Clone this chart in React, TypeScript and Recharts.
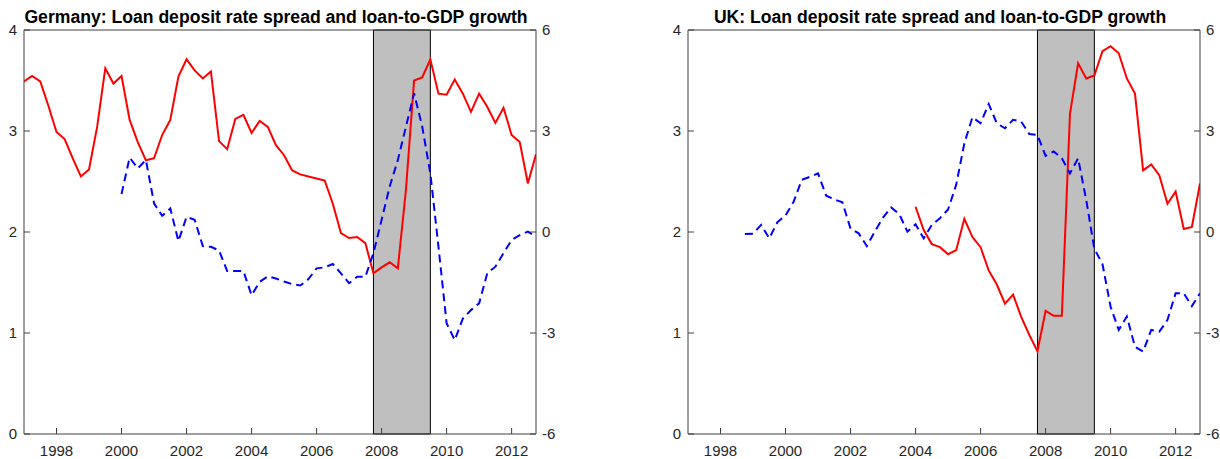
import { LineChart, Line, XAxis, YAxis, ReferenceArea } from 'recharts';

// quarterly observations, first value at the given start year
const firstQuarter = 1997;
const lastQuarter = 2012.75;
const yearTicks = [1998, 2000, 2002, 2004, 2006, 2008, 2010, 2012];
const spreadTicks = [0, 1, 2, 3, 4];
const growthTicks = [-6, -3, 0, 3, 6];
const crisisStart = 2007.75;
const crisisEnd = 2009.5;

const deSpreadStart = 1997;
const deSpread = [
  3.49, 3.545, 3.49, 3.25, 2.99, 2.92, 2.73, 2.55,
  2.62, 3.04, 3.62, 3.47, 3.545, 3.11, 2.89, 2.71,
  2.73, 2.96, 3.11, 3.54, 3.71, 3.6, 3.52, 3.59,
  2.9, 2.82, 3.12, 3.16, 2.98, 3.1, 3.04, 2.86,
  2.76, 2.61, 2.57, 2.55, 2.53, 2.51, 2.28, 1.99,
  1.94, 1.95, 1.89, 1.59, 1.65, 1.7, 1.64, 2.42,
  3.5, 3.53, 3.71, 3.37, 3.36, 3.51, 3.37, 3.19,
  3.37, 3.24, 3.08, 3.23, 2.96, 2.89, 2.48, 2.77,
];
const deGrowthStart = 2000;
const deGrowth = [
  1.13, 2.21, 1.89, 2.14, 0.85, 0.48, 0.7, -0.27,
  0.45, 0.36, -0.42, -0.44, -0.55, -1.16, -1.16, -1.16,
  -1.88, -1.48, -1.32, -1.38, -1.47, -1.55, -1.59, -1.4,
  -1.08, -1.05, -0.95, -1.23, -1.52, -1.33, -1.33, -0.63,
  0.36, 1.35, 2.14, 3.13, 4.12, 3.13, 1.74, -0.44,
  -2.71, -3.21, -2.57, -2.32, -2.12, -1.23, -1.03, -0.63,
  -0.24, -0.09, 0.01, -0.14,
];

const ukSpreadStart = 2004;
const ukSpread = [
  2.25, 2.02, 1.88, 1.85, 1.78, 1.82, 2.13, 1.95,
  1.85, 1.62, 1.48, 1.29, 1.38, 1.16, 0.98, 0.82,
  1.22, 1.17, 1.17, 3.17, 3.67, 3.52, 3.55, 3.79,
  3.84, 3.77, 3.52, 3.37, 2.61, 2.67, 2.56, 2.28,
  2.4, 2.03, 2.05, 2.48,
];
const ukGrowthStart = 1998.75;
const ukGrowth = [
  -0.06, -0.05, 0.21, -0.19, 0.29, 0.49, 0.9, 1.55,
  1.64, 1.74, 1.08, 0.97, 0.88, 0.1, -0.04, -0.42,
  0.02, 0.43, 0.73, 0.53, 0.01, 0.23, -0.19, 0.21,
  0.41, 0.67, 1.4, 2.63, 3.41, 3.23, 3.8, 3.23,
  3.08, 3.33, 3.28, 2.91, 2.88, 2.26, 2.39, 2.19,
  1.74, 2.19, 0.95, -0.5, -0.95, -2.22, -2.91, -2.51,
  -3.41, -3.55, -2.91, -2.96, -2.61, -1.82, -1.82, -2.2,
  -1.82,
];

type Row = { t: number; spread: number | null; growth: number | null };

function buildRows(sStart: number, s: number[], gStart: number, g: number[]): Row[] {
  const n = Math.round((lastQuarter - firstQuarter) * 4) + 1;
  const rows: Row[] = [];
  for (let i = 0; i < n; i++) {
    const t = firstQuarter + i / 4;
    const si = Math.round((t - sStart) * 4);
    const gi = Math.round((t - gStart) * 4);
    rows.push({
      t,
      spread: si >= 0 && si < s.length ? s[si] : null,
      growth: gi >= 0 && gi < g.length ? g[gi] : null,
    });
  }
  return rows;
}

const germanyRows = buildRows(deSpreadStart, deSpread, deGrowthStart, deGrowth);
const ukRows = buildRows(ukSpreadStart, ukSpread, ukGrowthStart, ukGrowth);

const FONT = '"Liberation Sans", Arial, Helvetica, sans-serif';
const AXIS = '#404040';
const TEXT = '#262626';
const tickStyle = { fill: TEXT, fontSize: 15, fontFamily: FONT };

function Panel({ title, rows, left }: { title: string; rows: Row[]; left: number }) {
  return (
    <div style={{ position: 'absolute', left, top: 0, width: 576, height: 459 }}>
      <div
        style={{
          position: 'absolute',
          left: 20,
          width: 512,
          top: 7,
          textAlign: 'center',
          fontFamily: FONT,
          fontWeight: 'bold',
          fontSize: 17.6,
          lineHeight: 'normal',
          color: '#000',
          whiteSpace: 'nowrap',
        }}
      >
        {title}
      </div>
      <LineChart width={576} height={459} data={rows} margin={{ top: 29, right: 0, bottom: 0, left: 0 }}>
        <XAxis
          xAxisId="b"
          dataKey="t"
          type="number"
          domain={[firstQuarter, lastQuarter]}
          ticks={yearTicks}
          allowDataOverflow
          height={25}
          tickSize={-6}
          tickMargin={17}
          stroke={AXIS}
          tick={tickStyle}
        />
        <XAxis
          xAxisId="top"
          orientation="top"
          dataKey="t"
          type="number"
          domain={[firstQuarter, lastQuarter]}
          ticks={yearTicks}
          allowDataOverflow
          height={1}
          tickSize={-6}
          tick={false}
          stroke={AXIS}
        />
        <YAxis
          yAxisId="left"
          domain={[0, 4]}
          ticks={spreadTicks}
          width={24}
          tickSize={-6}
          tickMargin={13}
          stroke={AXIS}
          tick={tickStyle}
        />
        <YAxis
          yAxisId="right"
          orientation="right"
          domain={[-6, 6]}
          ticks={growthTicks}
          width={40}
          tickSize={-6}
          tickMargin={12}
          stroke={AXIS}
          tick={tickStyle}
        />
        <ReferenceArea
          xAxisId="b"
          yAxisId="left"
          x1={crisisStart}
          x2={crisisEnd}
          y1={0}
          y2={4}
          fill="#bfbfbf"
          fillOpacity={1}
          stroke="#000"
          strokeWidth={1}
        />
        <Line
          xAxisId="b"
          yAxisId="left"
          dataKey="spread"
          stroke="#ff0000"
          strokeWidth={2}
          dot={false}
          activeDot={false}
          isAnimationActive={false}
        />
        <Line
          xAxisId="b"
          yAxisId="right"
          dataKey="growth"
          stroke="#0000ff"
          strokeWidth={2}
          strokeDasharray="8 5"
          dot={false}
          activeDot={false}
          isAnimationActive={false}
        />
      </LineChart>
    </div>
  );
}

export default function App() {
  return (
    <div style={{ position: 'absolute', left: 0, top: 0, width: 1220, height: 459, background: '#fff' }}>
      <Panel title="Germany: Loan deposit rate spread and loan-to-GDP growth" rows={germanyRows} left={0} />
      <Panel title="UK: Loan deposit rate spread and loan-to-GDP growth" rows={ukRows} left={664} />
    </div>
  );
}
